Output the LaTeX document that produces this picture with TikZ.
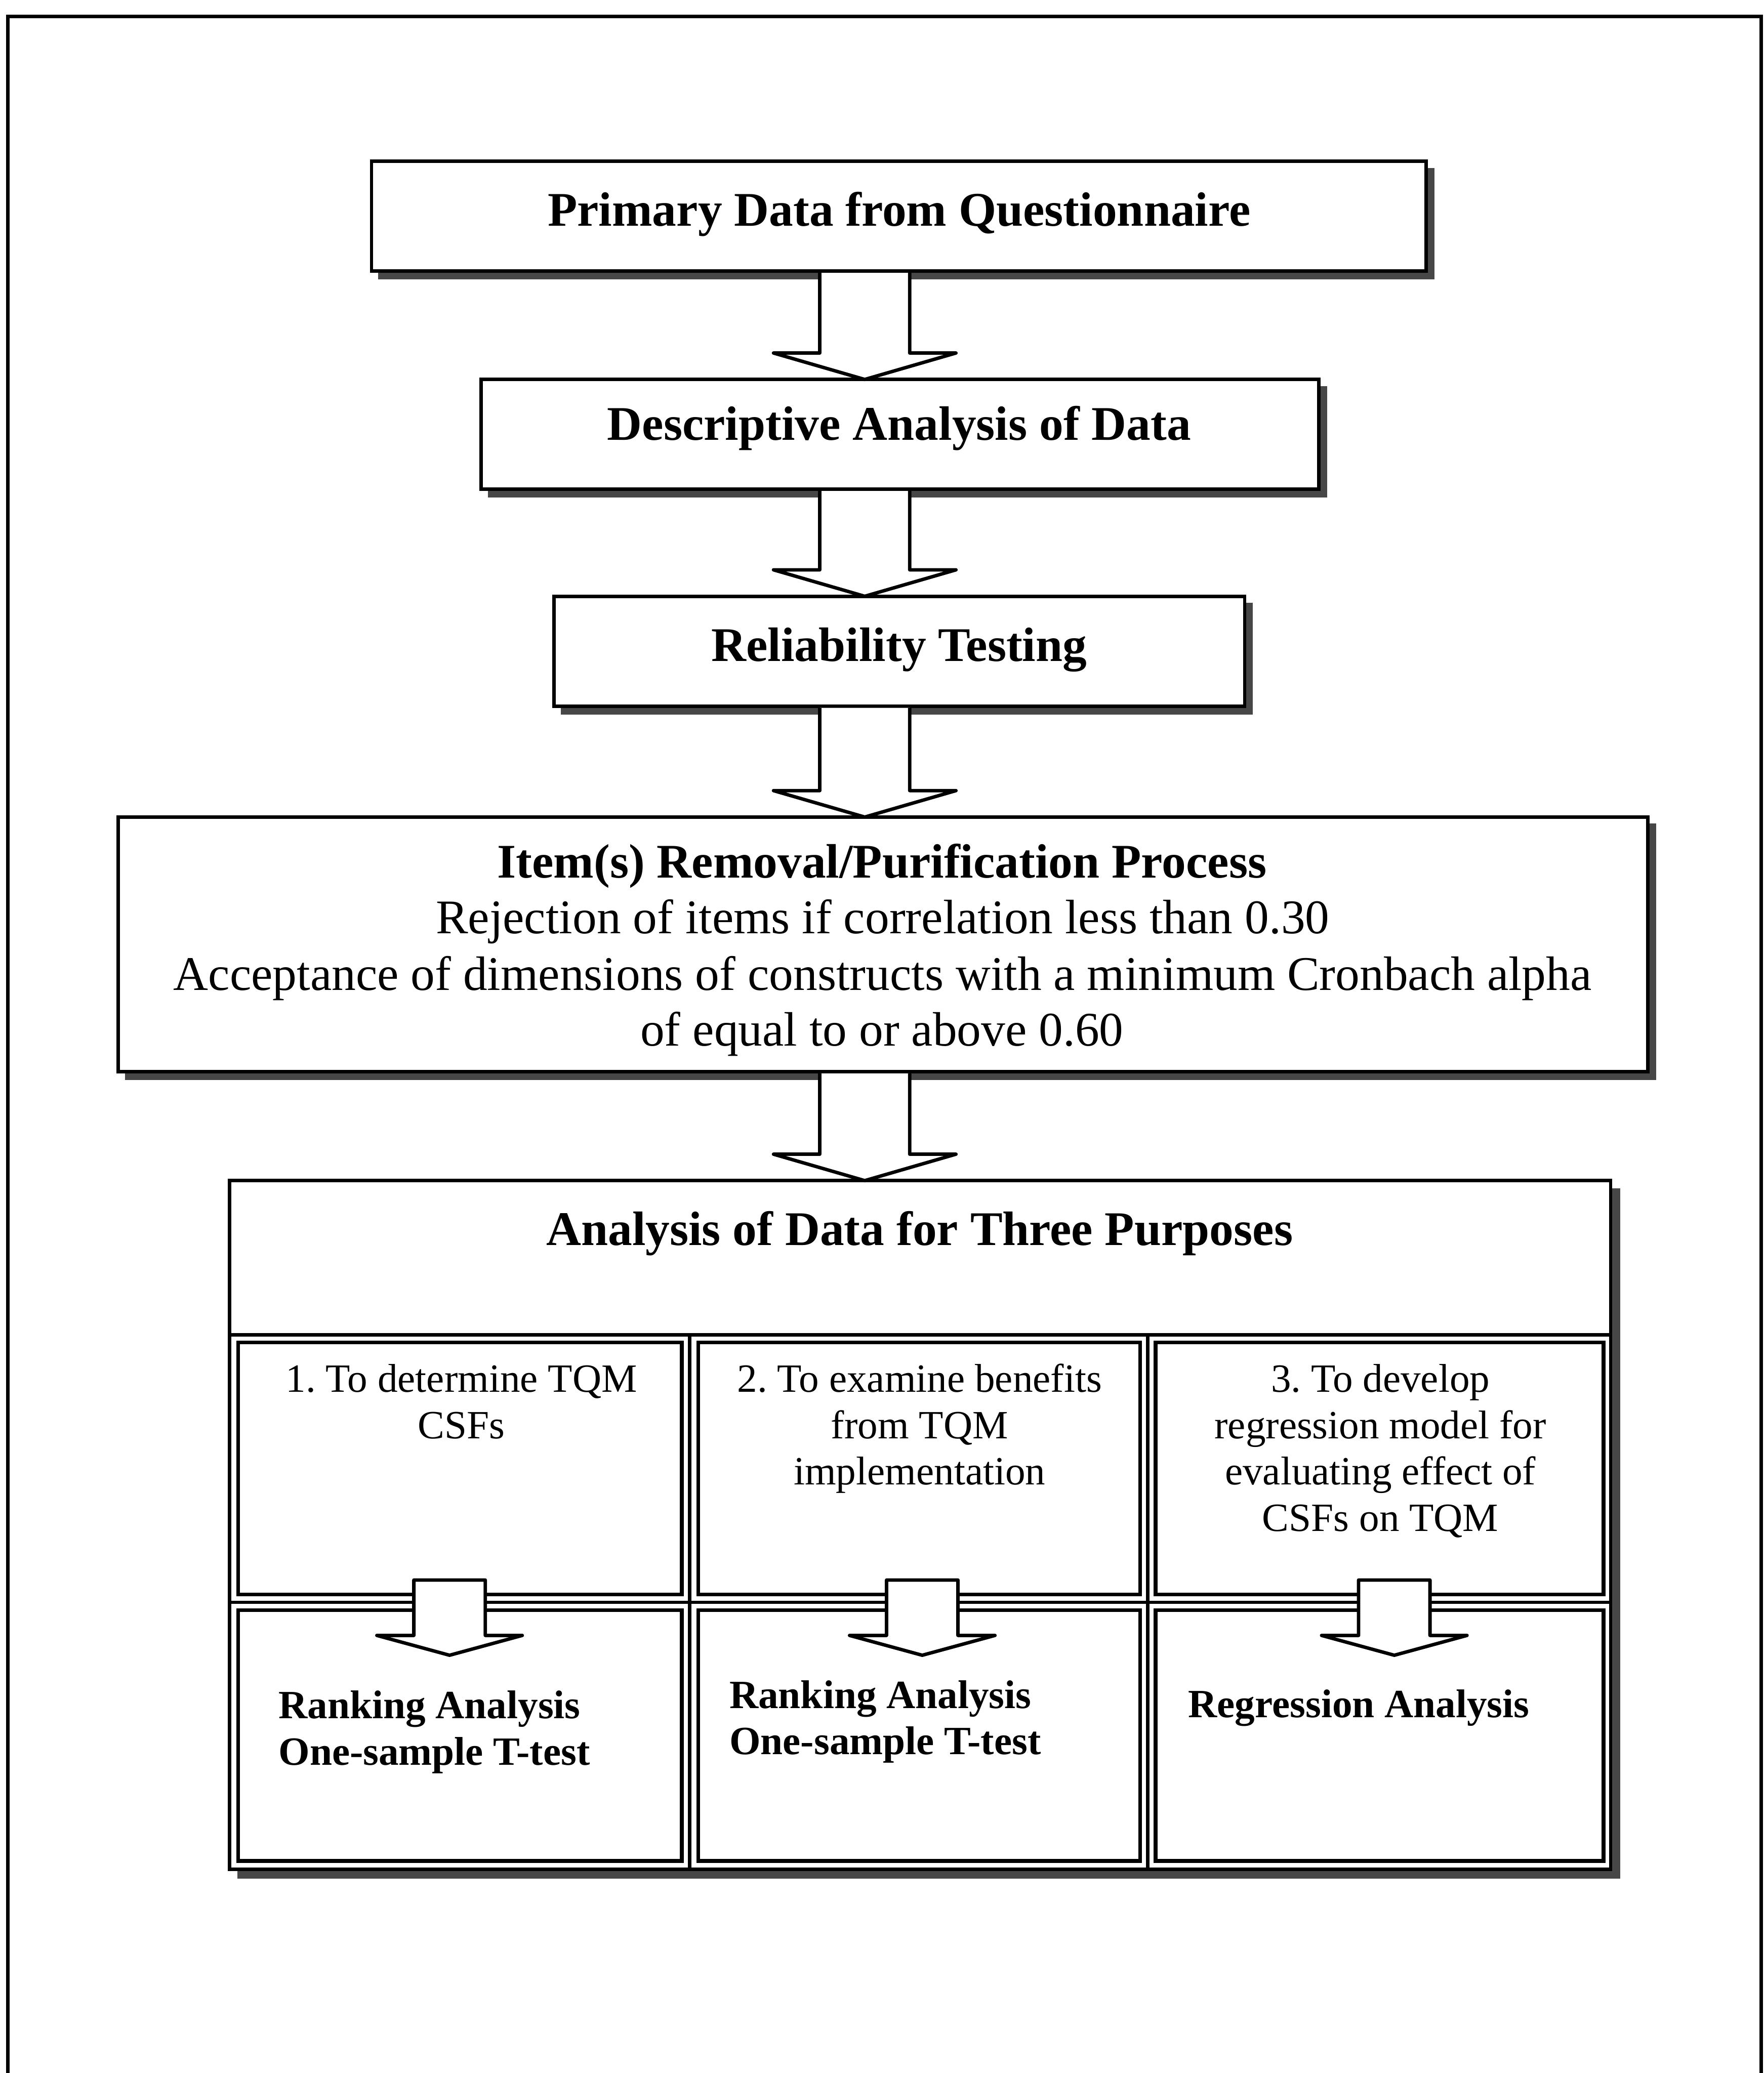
\documentclass[tikz,border=0pt]{standalone}
\usepackage{fontspec}
\setmainfont{Liberation Serif}
\usetikzlibrary{calc}
\pgfdeclarelayer{paperlayer}
\pgfdeclarelayer{shadowlayer}
\pgfsetlayers{paperlayer,shadowlayer,main}
\newcommand\bigfont{\fontsize{10.39pt}{12pt}\selectfont}
\newcommand\smallfont{\fontsize{8.62pt}{10pt}\selectfont}
\frenchspacing

% wide block arrow from the bottom of one box to the top of the next
\newcommand\bigblockarrow[3]{%
  \draw[blockarrow]
    ($(#1.south -| #3)+(-34,1.3)$) -- ($(#2.north -| #3)+(-34,-20)$)
    -- ($(#2.north -| #3)+(-69,-20)$) -- (#2.north -| #3)
    -- ($(#2.north -| #3)+(69,-20)$) -- ($(#2.north -| #3)+(34,-20)$)
    -- ($(#1.south -| #3)+(34,1.3)$);}

% small block arrow crossing from an upper cell into the cell below
\newcommand\smallblockarrow[3]{%
  \draw[blockarrow]
    ($(#1.south -| #3)+(-27,-11)$) -- ($(#2.north -| #3)+(-27,19)$)
    -- ($(#2.north -| #3)+(-55,19)$) -- ($(#2.north -| #3)+(0,34)$)
    -- ($(#2.north -| #3)+(55,19)$) -- ($(#2.north -| #3)+(27,19)$)
    -- ($(#1.south -| #3)+(27,-11)$) -- cycle;}

\begin{document}
\begin{tikzpicture}[x=0.01cm,y=-0.01cm,
  boxframe/.style={draw,line width=0.026cm,fill=white,inner sep=0pt,outer sep=0pt,anchor=north west},
  cellframe/.style={draw,line width=0.028cm,inner sep=0pt,outer sep=0pt,anchor=north west},
  gridline/.style={line width=0.026cm},
  shade/.style={fill=black!72},
  blockarrow/.style={draw,fill=white,line width=0.026cm,line join=round},
  title/.style={font=\bigfont\bfseries,inner sep=0pt,anchor=base},
  body/.style={font=\bigfont,inner sep=0pt,anchor=base},
  celltext/.style={font=\smallfont,inner sep=0pt,anchor=base},
  resulttext/.style={font=\smallfont\bfseries,inner sep=0pt,anchor=base west},
]
\useasboundingbox (0,0) rectangle (1334,1568);
\begin{pgfonlayer}{paperlayer}
  \fill[white] (0,0) rectangle (1334,1568);
\end{pgfonlayer}

% page frame (open at the bottom)
\draw[line width=0.026cm] (5.8,1568) -- (5.8,12.5) -- (1332,12.5) -- (1332,1568);

% process boxes
\node[boxframe,minimum width=7.97cm,minimum height=0.83cm] (b1) at (281,122) {};
\node[boxframe,minimum width=6.33cm,minimum height=0.83cm] (b2) at (364,287) {};
\node[boxframe,minimum width=5.22cm,minimum height=0.83cm] (b3) at (419,451) {};
\node[boxframe,minimum width=11.56cm,minimum height=1.925cm] (b4) at (89.5,618) {};
\node[boxframe,minimum width=10.44cm,minimum height=5.205cm] (b5) at (173.5,893) {};

% drop shadows
\begin{pgfonlayer}{shadowlayer}
  \foreach \b/\d in {b1/5,b2/5,b3/5,b4/5,b5/6}
    \fill[shade] ($(\b.north west)+(\d,\d)$) rectangle ($(\b.south east)+(\d+1.3,\d+1.3)$);
\end{pgfonlayer}

% box texts
\node[title] (t1) at (680,171) {Primary Data from Questionnaire};
\node[title] (t2) at (680,333) {Descriptive Analysis of Data};
\node[title] (t3) at (680,500) {Reliability Testing};
\node[title] (t4a) at (667,664) {Item(s) Removal/Purification Process};
\node[body] (t4b) at (667.5,706) {Rejection of items if correlation less than 0.30};
\node[body] (t4c) at (667.5,749) {Acceptance of dimensions of constructs with a minimum Cronbach alpha};
\node[body] (t4d) at (667,791) {of equal to or above 0.60};
\node[title] (t5) at (695.5,942) {Analysis of Data for Three Purposes};

% table grid inside the last box
\draw[gridline] ($(b5.north west)+(0,116.5)$) -- ($(b5.north east)+(0,116.5)$);
\draw[gridline] ($(b5.north west)+(0,319)$) -- ($(b5.north east)+(0,319)$);
\draw[gridline] ($(b5.north west)+(348,116.5)$) -- ($(b5.south west)+(348,0)$);
\draw[gridline] ($(b5.north west)+(694.5,116.5)$) -- ($(b5.south west)+(694.5,0)$);

% table cells
\node[cellframe,minimum width=3.355cm,minimum height=1.905cm] (c1) at (180,1015.5) {};
\node[cellframe,minimum width=3.34cm,minimum height=1.905cm] (c2) at (528,1015.5) {};
\node[cellframe,minimum width=3.385cm,minimum height=1.905cm] (c3) at (874,1015.5) {};
\node[cellframe,minimum width=3.355cm,minimum height=1.895cm] (d1) at (180,1218) {};
\node[cellframe,minimum width=3.34cm,minimum height=1.895cm] (d2) at (528,1218) {};
\node[cellframe,minimum width=3.385cm,minimum height=1.895cm] (d3) at (874,1218) {};

% purposes
\node[celltext] (c1a) at (349,1053) {1. To determine TQM};
\node[celltext] (c1b) at (349,1088) {CSFs};
\node[celltext] (c2a) at (695.5,1053) {2. To examine benefits};
\node[celltext] (c2b) at (695.5,1088) {from TQM};
\node[celltext] (c2c) at (695.5,1123) {implementation};
\node[celltext] (c3a) at (1044,1053) {3. To develop};
\node[celltext] (c3b) at (1044,1088) {regression model for};
\node[celltext] (c3c) at (1044,1123) {evaluating effect of};
\node[celltext] (c3d) at (1044,1158) {CSFs on TQM};

% methods
\node[resulttext] (d1a) at (210,1300) {Ranking Analysis};
\node[resulttext] (d1b) at (210,1335) {One-sample T-test};
\node[resulttext] (d2a) at (551,1292) {Ranking Analysis};
\node[resulttext] (d2b) at (551,1327) {One-sample T-test};
\node[resulttext] (d3a) at (898,1299) {Regression Analysis};

% arrow axes
\coordinate (axis) at (654,0);
\coordinate (ax1) at (340,0);
\coordinate (ax2) at (697.5,0);
\coordinate (ax3) at (1054.5,0);

% flow arrows
\bigblockarrow{b1}{b2}{axis}
\bigblockarrow{b2}{b3}{axis}
\bigblockarrow{b3}{b4}{axis}
\bigblockarrow{b4}{b5}{axis}

\smallblockarrow{c1}{d1}{ax1}
\smallblockarrow{c2}{d2}{ax2}
\smallblockarrow{c3}{d3}{ax3}
\end{tikzpicture}
\end{document}
